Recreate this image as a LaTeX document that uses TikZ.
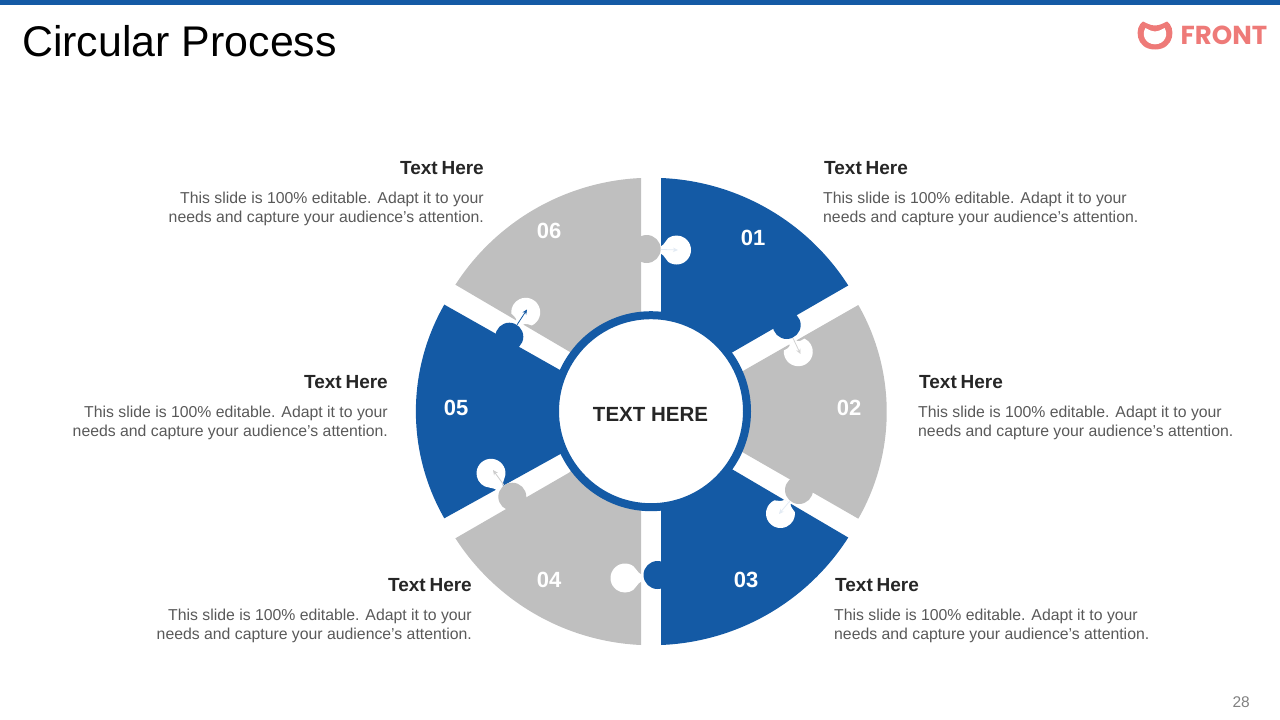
\documentclass[tikz,border=0pt]{standalone}
\usepackage{fontspec}
\usetikzlibrary{arrows.meta}
\setmainfont{Liberation Sans}
\newfontfamily\logofont{Poppins}
\definecolor{pblue}{HTML}{145AA5}
\definecolor{pgray}{HTML}{BFBFBF}
\definecolor{phead}{HTML}{262626}
\definecolor{pbody}{HTML}{595959}
\definecolor{plogo}{HTML}{EE7A78}
\tikzset{
  x=1pt,y=1pt,
  bluepart/.style={fill=pblue},
  graypart/.style={fill=pgray},
  bluetab/.style={circle,fill=pblue,minimum size=28pt,inner sep=0pt},
  graytab/.style={circle,fill=pgray,minimum size=28pt,inner sep=0pt},
  number/.style={text=white,font=\bfseries\fontsize{22}{24}\selectfont,inner sep=0pt},
  headl/.style={text=phead,font=\bfseries\fontsize{19}{22}\selectfont,inner sep=0pt,anchor=base west},
  headr/.style={text=phead,font=\bfseries\fontsize{19}{22}\selectfont,inner sep=0pt,anchor=base east},
  bodyl/.style={text=pbody,font=\fontsize{15.8}{19.2}\selectfont,inner sep=0pt,align=left,anchor=north west},
  bodyr/.style={text=pbody,font=\fontsize{15.8}{19.2}\selectfont,inner sep=0pt,align=right,anchor=north east},
  tiny arrow/.style={line width=.8pt,-{Stealth[length=5pt,width=4.5pt]}},
}
\newcommand{\keyhole}[5]{% name, x, y, angle, distance to edge
  \coordinate (#1) at (#2,#3);
  \begin{scope}[shift={(#2,#3)},rotate=#4]
    \fill[white] (55:14.5pt) arc[start angle=55,end angle=305,radius=14.5pt]
      .. controls (#5-3,-6.5) and (#5-1.5,-3.5) .. (#5+.5,-4) -- (#5+.5,4)
      .. controls (#5-1.5,3.5) and (#5-3,6.5) .. cycle;
  \end{scope}}
\newcommand{\bodytext}{This slide is 100\% editable. Adapt it to your\\needs and capture your audience's attention.}
\newcommand{\headtext}{Text\hspace{.2em}Here}
\begin{document}
\begin{tikzpicture}
\useasboundingbox (0,0) rectangle (1280,-720);
\fill[pblue] (0,0) rectangle (1280,-4.7);
\node[anchor=base west,inner sep=0pt,font=\fontsize{42.9}{48}\selectfont,text=black] (title) at (22,-56) {Circular Process};
% logo
\fill[plogo] (1143,-21.5) .. controls (1134,-27) and (1135,-49.5) .. (1155,-49.5)
  .. controls (1175,-49.5) and (1176,-27) .. (1167,-21.5)
  .. controls (1163,-23.5) and (1159,-25.5) .. (1155,-25.5)
  .. controls (1151,-25.5) and (1147,-23.5) .. (1143,-21.5) -- cycle;
\fill[white] (1145.5,-28) .. controls (1141.5,-34) and (1144.5,-44) .. (1155,-44.3)
  .. controls (1165.5,-44) and (1168.5,-34) .. (1164.5,-28)
  .. controls (1161,-30) and (1159,-31) .. (1155,-31.5)
  .. controls (1151,-31) and (1149,-30) .. (1145.5,-28) -- cycle;
\node[anchor=base west,inner sep=0pt,font=\logofont\bfseries\fontsize{26}{28}\selectfont,text=plogo] (logo) at (1180.5,-44.5) {FRONT};
% sectors
\path[bluepart] (661,-178) arc[start angle=87.7,end angle=32.6,radius=233.4pt] -- (731.7,-352.7) -- (700,-375) -- (661,-390) -- cycle;
\path[graypart] (858.3,-305) arc[start angle=29.8,end angle=-29.8,radius=215pt] -- (741.7,-451.7) -- (700,-411) -- (741.7,-371.7) -- cycle;
\path[bluepart] (661,-645) arc[start angle=-87.7,end angle=-32.6,radius=233.4pt] -- (731.7,-469) -- (700,-445) -- (661,-430) -- cycle;
\path[graypart] (641,-645) arc[start angle=-92.6,end angle=-147.2,radius=233.4pt] -- (569,-472.7) -- (600,-445) -- (641,-430) -- cycle;
\path[bluepart] (444.3,-518.3) arc[start angle=209.8,end angle=150.2,radius=215pt] -- (560,-370) -- (600,-411) -- (561.7,-453.3) -- cycle;
\path[graypart] (641,-178) arc[start angle=92.6,end angle=147.2,radius=233.4pt] -- (570,-352) -- (600,-375) -- (641,-390) -- cycle;
% keyholes
\keyhole{h1}{676.5}{-250}{180}{15.5}
\keyhole{h2}{798.3}{-351.7}{120}{10.7}
\keyhole{h3}{780.5}{-513.5}{60}{13.6}
\keyhole{h4}{625}{-578}{0}{16}
\keyhole{h5}{491}{-473.3}{-60}{16.8}
\keyhole{h6}{525.7}{-312.3}{240}{12.2}
% tabs
\node[graytab] (t6) at (646.7,-249) {};
\node[bluetab] (t1) at (786.7,-325) {};
\node[graytab] (t2) at (799,-490) {};
\node[bluetab] (t3) at (657.5,-575) {};
\node[graytab] (t4) at (512.3,-496.7) {};
\node[bluetab] (t5) at (509.3,-336.7) {};
% arrows
\coordinate (a1) at (678,-250);
\coordinate (a2) at (800.5,-354);
\coordinate (a3) at (779,-514);
\coordinate (a5) at (493,-470);
\coordinate (a6) at (527,-309.5);
\draw[tiny arrow,draw=white!88!pblue] (t6) -- (a1);
\draw[tiny arrow,draw=pgray!70!white] (t1) -- (a2);
\draw[tiny arrow,draw=white!88!pblue] (t2) -- (a3);
\draw[tiny arrow,draw=pgray!80!white] (t4) -- (a5);
\draw[tiny arrow,draw=pblue] (t5) -- (a6);
% hub
\node[circle,draw=pblue,line width=8pt,fill=white,minimum size=192pt,inner sep=0pt] (hub) at (651,-411.2) {};
\node[text=phead,inner sep=0pt,font=\bfseries\fontsize{20.5}{24}\selectfont] (hubtext) at (650.5,-414) {TEXT HERE};
% numbers
\node[number] (n1) at (753,-238) {01};
\node[number] (n2) at (849,-408) {02};
\node[number] (n3) at (746,-580) {03};
\node[number] (n4) at (549,-580) {04};
\node[number] (n5) at (456,-408) {05};
\node[number] (n6) at (549,-231) {06};
% text blocks
\node[headl] (ha) at (824,-174.5) {\headtext};
\node[bodyl] (ba) at (823,-191.5) {\bodytext};
\node[headl] (hb) at (919,-388.5) {\headtext};
\node[bodyl] (bb) at (918,-405.5) {\bodytext};
\node[headl] (hc) at (835,-591.5) {\headtext};
\node[bodyl] (bc) at (834,-608.5) {\bodytext};
\node[headr] (hd) at (484,-174.5) {\headtext};
\node[bodyr] (bd) at (484,-191.5) {\bodytext};
\node[headr] (he) at (388,-388.5) {\headtext};
\node[bodyr] (be) at (388,-405.5) {\bodytext};
\node[headr] (hf) at (472,-591.5) {\headtext};
\node[bodyr] (bf) at (472,-608.5) {\bodytext};
\node[anchor=base east,inner sep=0pt,text=black!50,font=\fontsize{15.5}{18}\selectfont] (page) at (1250,-707) {28};
\end{tikzpicture}
\end{document}
